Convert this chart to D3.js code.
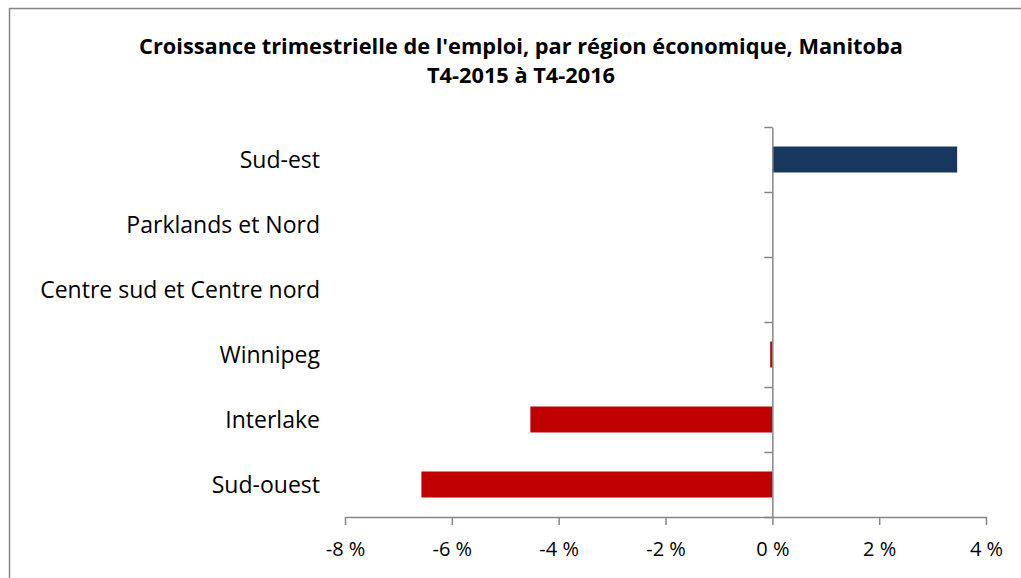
<!DOCTYPE html>
<html>
<head>
    <meta charset="utf-8">
    <script src="https://d3js.org/d3.v7.min.js"></script>
    <style>
        body { margin: 0; background: #fff; }
        svg text { font-family: "Open Sans", sans-serif; fill: #000; }
        .axis path, .axis line { stroke: #868686; stroke-width: 1.5; }
    </style>
</head>
<body>
    <svg id="chart" width="1021" height="578"></svg>
    <script>
        // data (% change, Q4-2015 to Q4-2016)
        const categories = ["Sud-est", "Parklands et Nord", "Centre sud et Centre nord", "Winnipeg", "Interlake", "Sud-ouest"];
        const values = [3.46, null, null, -0.04, -4.53, -6.57];
        const xTicks = [-8, -6, -4, -2, 0, 2, 4];
        const titleLines = ["Croissance trimestrielle de l'emploi, par région économique, Manitoba", "T4-2015 à T4-2016"];

        const svg = d3.select("#chart");

        // outer chart frame (runs past right and bottom edge)
        svg.append("rect")
            .attr("x", 9.5).attr("y", 8.5)
            .attr("width", 1040).attr("height", 620)
            .attr("fill", "none")
            .attr("stroke", "#868686")
            .attr("stroke-width", 1.5);

        const plotTop = 127, plotBottom = 517;

        const x = d3.scaleLinear()
            .domain([-8, 4])
            .range([345, 986]);

        const y = d3.scaleBand()
            .domain(categories)
            .range([plotTop, plotBottom])
            .paddingInner(0.6)
            .paddingOuter(0.3);

        // boundaries between categories, used for the y ticks
        const yEdge = d3.scaleLinear()
            .domain([0, categories.length])
            .range([plotTop, plotBottom]);

        function fitFont(sel, targetWidth, startSize) {
            sel.style("font-size", startSize + "px");
            const w = sel.node().getComputedTextLength();
            return startSize * targetWidth / w;
        }

        // bars
        svg.append("g")
            .selectAll("rect")
            .data(categories.map((c, i) => ({ cat: c, value: values[i] })).filter(d => d.value !== null))
            .join("rect")
            .attr("x", d => x(Math.min(0, d.value)))
            .attr("width", d => Math.abs(x(d.value) - x(0)))
            .attr("y", d => y(d.cat))
            .attr("height", y.bandwidth())
            .attr("fill", d => d.value >= 0 ? "#17375E" : "#C00000");

        // x axis
        const xAxis = svg.append("g")
            .attr("class", "axis")
            .attr("transform", `translate(0,${plotBottom})`)
            .call(d3.axisBottom(x)
                .tickValues(xTicks)
                .tickSize(8)
                .tickSizeOuter(0)
                .tickFormat(d => `${d} %`));
        xAxis.selectAll("text")
            .attr("y", 25)
            .attr("dy", "0.71em")
            .style("font-size", "20px")
            .attr("font-family", null);

        // y axis at zero
        svg.append("g")
            .attr("class", "axis")
            .attr("transform", `translate(${x(0)},0)`)
            .call(d3.axisLeft(yEdge)
                .ticks(categories.length)
                .tickSize(8)
                .tickSizeOuter(0)
                .tickFormat(""));

        // category labels
        const catLabels = svg.append("g")
            .selectAll("text")
            .data(categories)
            .join("text")
            .attr("x", 320)
            .attr("y", d => y(d) + y.bandwidth() / 2)
            .attr("dy", "0.36em")
            .attr("text-anchor", "end")
            .text(d => d);
        const catSize = fitFont(catLabels.filter((d, i) => i === 2), 280, 20);
        catLabels.style("font-size", catSize + "px");

        // title
        const title = svg.append("g")
            .selectAll("text")
            .data(titleLines)
            .join("text")
            .attr("x", 521)
            .attr("y", (d, i) => 54 + i * 29)
            .attr("text-anchor", "middle")
            .attr("font-weight", "bold")
            .text(d => d);
        const titleSize = fitFont(title.filter((d, i) => i === 0), 764, 19);
        title.style("font-size", titleSize + "px");
    </script>
</body>
</html>
